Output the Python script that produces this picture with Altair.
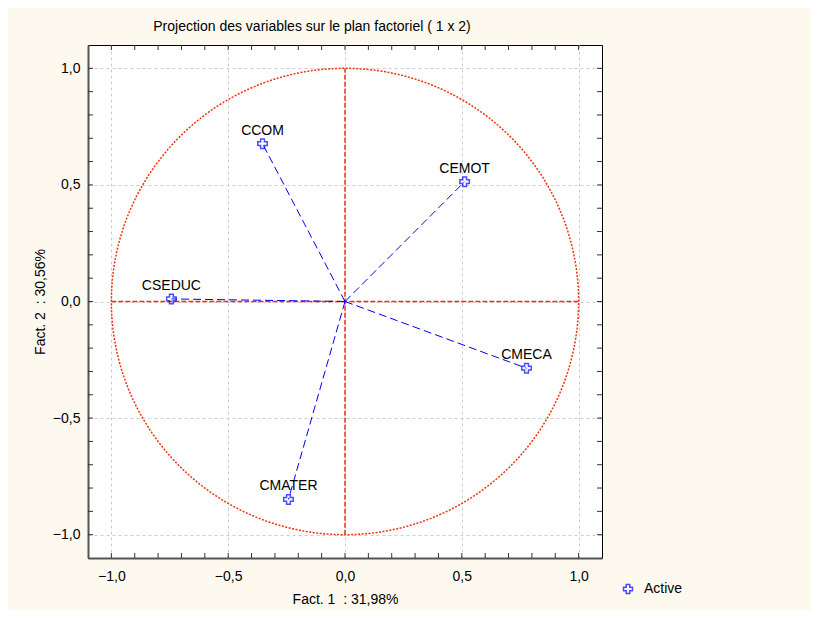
import altair as alt
import pandas as pd

# ---- data ----
names = ["CCOM", "CEMOT", "CSEDUC", "CMECA", "CMATER"]
fact1 = [-0.353, 0.512, -0.743, 0.777, -0.242]
fact2 = [0.677, 0.514, 0.011, -0.286, -0.849]
group = ["Active"] * 5

label_values = [-1.0, -0.5, 0.0, 0.5, 1.0]
tick_values = [round(-1.0 + 0.1 * i, 1) for i in range(21)]

pts = pd.DataFrame({"name": names, "f1": fact1, "f2": fact2, "grp": group})

seg_rows = []
for n, a, b in zip(names, fact1, fact2):
    seg_rows.append({"name": n, "f1": 0.0, "f2": 0.0, "k": 0})
    seg_rows.append({"name": n, "f1": a, "f2": b, "k": 1})
segs = pd.DataFrame(seg_rows)

ticks_df = pd.DataFrame({"t": tick_values})
cross_h = pd.DataFrame({"f1": [-1.0], "f1b": [1.0], "f2": [0.0]})
cross_v = pd.DataFrame({"f2": [-1.0], "f2b": [1.0], "f1": [0.0]})

DOM = [-1.1, 1.1]
BLUE = "#0000ff"
RED = "#ee3311"
FONT = "Liberation Sans"
W, H = 514, 513

sx = alt.Scale(domain=DOM, nice=False, zero=False)
sy = alt.Scale(domain=DOM, nice=False, zero=False)

label_expr = "replace(format(datum.value, '.1f'), '.', ',')"

x_axis = alt.Axis(values=label_values, labelExpr=label_expr,
                  title="Fact. 1 \u00a0: 31,98%",
                  orient="bottom", ticks=False,
                  labelPadding=11, labelFontSize=14, labelFont=FONT, labelColor="black",
                  titleFontSize=14, titleFont=FONT, titleFontWeight="normal",
                  titleColor="black", titlePadding=9,
                  domainColor="#555555", domainWidth=2,
                  grid=True, gridColor="#cccccc", gridDash=[3, 3], gridWidth=1,
                  labelOverlap=False)
y_axis = alt.Axis(values=label_values, labelExpr=label_expr,
                  title="Fact. 2 \u00a0: 30,56%",
                  orient="left", ticks=False,
                  labelPadding=8, labelFontSize=14, labelFont=FONT, labelColor="black",
                  titleFontSize=14, titleFont=FONT, titleFontWeight="normal",
                  titleColor="black", titlePadding=5,
                  domainColor="#555555", domainWidth=2,
                  grid=True, gridColor="#cccccc", gridDash=[3, 3], gridWidth=1,
                  labelOverlap=False)


def X(field):
    return alt.X(field, scale=sx, axis=x_axis)


def Y(field):
    return alt.Y(field, scale=sy, axis=y_axis)


# inner ticks on all four edges
tick_color = "#333333"
top_ticks = alt.Chart(ticks_df).mark_rule(color=tick_color).encode(
    x=X("t:Q"), y=alt.value(0), y2=alt.value(5))
bottom_ticks = alt.Chart(ticks_df).mark_rule(color=tick_color).encode(
    x=X("t:Q"), y=alt.value(H), y2=alt.value(H - 5))
right_ticks = alt.Chart(ticks_df).mark_rule(color=tick_color).encode(
    y=Y("t:Q"), x=alt.value(W), x2=alt.value(W - 5))
left_ticks = alt.Chart(ticks_df).mark_rule(color=tick_color).encode(
    y=Y("t:Q"), x=alt.value(0), x2=alt.value(5))

# unit circle
circle = alt.Chart(alt.sequence(0, 361, 1, as_="t")).transform_calculate(
    cx="cos(datum.t*PI/180)", cy="sin(datum.t*PI/180)"
).mark_line(color=RED, strokeDash=[2, 1.5], strokeWidth=1.5).encode(
    x=X("cx:Q"), y=Y("cy:Q"), order="t:Q",
)

hline = alt.Chart(cross_h).mark_rule(color=RED, strokeDash=[5, 2], strokeWidth=1.5).encode(
    x=X("f1:Q"), x2="f1b:Q", y=Y("f2:Q"))
vline = alt.Chart(cross_v).mark_rule(color=RED, strokeDash=[5, 2], strokeWidth=1.5).encode(
    y=Y("f2:Q"), y2="f2b:Q", x=X("f1:Q"))

vectors = alt.Chart(segs).mark_line(color=BLUE, strokeDash=[8, 4], strokeWidth=1).encode(
    x=X("f1:Q"), y=Y("f2:Q"), detail="name:N", order="k:Q",
)

points = alt.Chart(pts).mark_point(shape="cross", filled=False, strokeWidth=1.5, size=90).encode(
    x=X("f1:Q"), y=Y("f2:Q"),
    color=alt.Color("grp:N", scale=alt.Scale(range=[BLUE]),
                    legend=alt.Legend(title=None, orient="none", legendX=533, legendY=537,
                                      labelFontSize=14, labelFont=FONT, labelColor="black",
                                      symbolType="cross", symbolFillColor="transparent",
                                      symbolStrokeWidth=1.5, symbolSize=80, labelOffset=9)),
)

labels = alt.Chart(pts).mark_text(dy=-13, fontSize=14, font=FONT, color="black").encode(
    x=X("f1:Q"), y=Y("f2:Q"), text="name:N",
)

chart = alt.layer(top_ticks, bottom_ticks, right_ticks, left_ticks, circle, hline, vline,
                  vectors, points, labels).properties(
    width=W, height=H,
    autosize=alt.AutoSizeParams(type="none"),
    padding={"left": 80, "top": 37, "right": 209, "bottom": 52},
    background="#fdf9ef",
    title=alt.TitleParams("Projection des variables sur le plan factoriel ( 1 x 2)",
                          fontSize=14, font=FONT, fontWeight="normal", color="black",
                          anchor="middle", dx=-33, offset=11),
).configure_view(fill="white", stroke="black", strokeWidth=1)

chart.save("out.html", embed_options={"renderer": "svg", "actions": False})
